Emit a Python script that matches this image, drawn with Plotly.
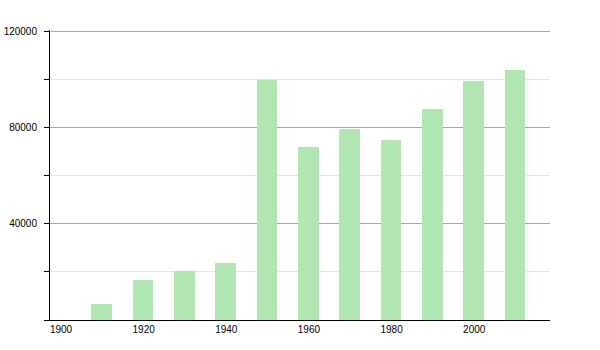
import plotly.graph_objects as go

years = [1910, 1920, 1930, 1940, 1950, 1960, 1970, 1980, 1990, 2000, 2010]
population = [6600, 16600, 20300, 23700, 99700, 72000, 79300, 74800, 87600, 99300, 103800]
x_ticks = [1900, 1920, 1940, 1960, 1980, 2000]
y_ticks = [40000, 80000, 120000]

fig = go.Figure()
fig.add_trace(go.Bar(
    x=years, y=population, width=5, offset=0,
    marker=dict(color="rgb(177,229,177)", line=dict(width=0)),
))

fig.update_layout(
    width=600, height=350,
    margin=dict(l=50, r=50, t=30, b=30, autoexpand=False),
    paper_bgcolor="white", plot_bgcolor="white",
    showlegend=False,
    font=dict(family="Liberation Sans, Arial, sans-serif", size=10, color="black"),
    bargap=0,
)
fig.update_xaxes(
    range=[1900, 2021], tickvals=x_ticks, ticktext=[str(v) for v in x_ticks],
    showgrid=False, zeroline=False, showline=True, linecolor="black", linewidth=1,
    ticks="", ticklabelshift=11, ticklabelstandoff=0, automargin=False,
)
fig.update_yaxes(
    range=[0, 120500], tickvals=y_ticks, ticktext=[str(v) for v in y_ticks],
    showgrid=True, gridcolor="#a8a8a8", gridwidth=1,
    zeroline=False, showline=True, linecolor="black", linewidth=1,
    ticks="outside", ticklen=5, tickcolor="black", ticklabelstandoff=5,
    automargin=False,
    minor=dict(dtick=20000, tick0=0, showgrid=True, gridcolor="#e4e4e4",
               ticks="outside", ticklen=5, tickcolor="black"),
)
fig.write_html("out.html")
